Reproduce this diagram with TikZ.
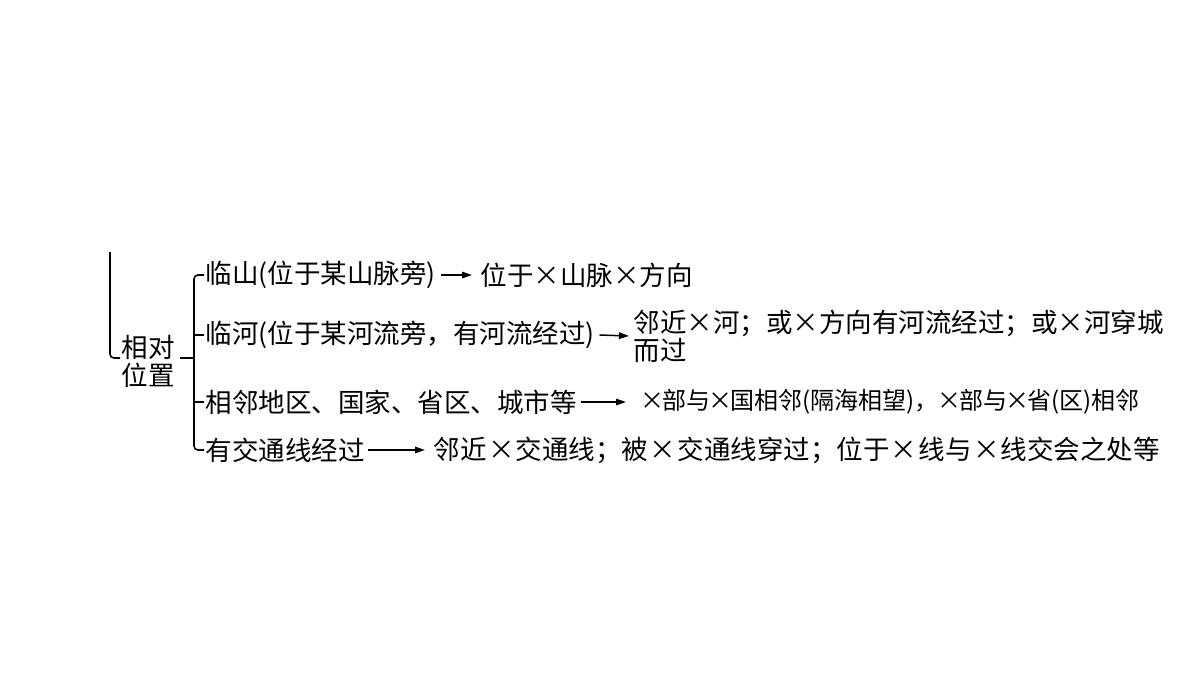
\documentclass[tikz,border=0pt]{standalone}
\usepackage{fontspec}
\newfontfamily\cjk{Noto Sans CJK SC}
\usetikzlibrary{arrows.meta}
\newcommand\X{\makebox[1em]{×}}
\newcommand\Xw{\makebox[1.1em]{×}}
\newcommand\Xs{\makebox[0.85em]{×}}
\begin{document}
\begin{tikzpicture}[x=1pt,y=-1pt,line width=1.6pt,
  txt/.style={font=\cjk\fontsize{26.5}{28}\selectfont,inner sep=0pt,anchor=west,align=left},
  txts/.style={txt,font=\cjk\fontsize{24}{28}\selectfont},
  arr/.style={-{Triangle[length=10pt,width=6.5pt]},line width=1.5pt},
  brk/.style={line width=1.6pt,rounded corners=4pt}]
\useasboundingbox (0,0) rectangle (1200,675);
% root
\node[txt] (root) at (121,361) {相对\\位置};
\coordinate (lt) at (110,252);
\coordinate (lb) at (120,358);
\draw[brk] (lt) |- (lb);
\coordinate (rj) at (180,358);
\coordinate (bj) at (194,358);
\draw (rj) -- (bj);
% left texts
\node[txt] (l1) at (205,275) {临山(位于某山脉旁)};
\node[txt] (l2) at (205,335) {临河(位于某河流旁，有河流经过)};
\node[txt] (l3) at (205,402) {相邻地区、国家、省区、城市等};
\node[txt] (l4) at (205,450) {有交通线经过};
% right texts
\node[txt] (r1) at (480,275) {位于\X 山脉\X 方向};
\node[txt] (r2) at (633,336) {邻近\X 河；或\X 方向有河流经过；或\X 河穿城\\而过};
\node[txts] (r3) at (641,402) {\Xs 部与\Xs 国相邻(隔海相望)，\Xs 部与\Xs 省(区)相邻};
\node[txt] (r4) at (433,450) {邻近\Xw 交通线；被\Xw 交通线穿过；位于\Xw 线与\Xw 线交会之处等};
% bracket
\draw[brk] ([xshift=-1pt]l1.west) -| (bj |- l4.west) -- ([xshift=-1pt]l4.west);
\draw (bj |- l2.west) -- ([xshift=-1pt]l2.west);
\draw (bj |- l3.west) -- ([xshift=-1pt]l3.west);
% arrows
\draw[arr] ([xshift=4pt]l1.east) -- ([xshift=-8pt]r1.west);
\draw[arr] ([xshift=4pt]l2.east) -- (r2.west -| 629,0);
\draw[arr] ([xshift=3pt]l3.east) -- ([xshift=-15pt]r3.west);
\draw[arr] ([xshift=2pt]l4.east) -- ([xshift=-8pt]r4.west);
\end{tikzpicture}
\end{document}
